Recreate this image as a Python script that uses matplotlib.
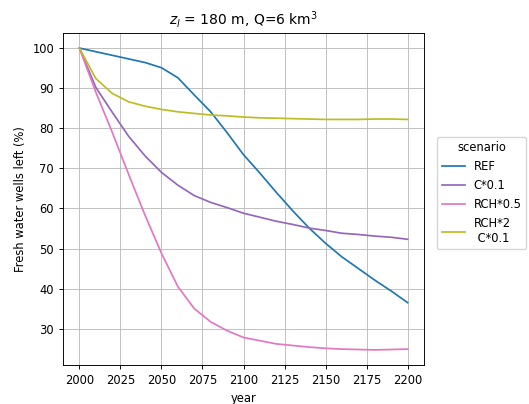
import matplotlib
matplotlib.use('Agg')
import matplotlib.pyplot as plt

years = list(range(2000, 2201, 10))

ref = [100, 99.1, 98.2, 97.3, 96.4, 95.1, 92.6, 88.3, 84.1, 78.9, 73.4,
       68.8, 64.0, 59.4, 55.1, 51.3, 47.9, 45.0, 42.1, 39.4, 36.5]
c01 = [100, 90.2, 84.0, 78.0, 73.1, 69.0, 65.8, 63.2, 61.5, 60.2, 58.8,
       57.8, 56.8, 56.0, 55.1, 54.5, 53.8, 53.5, 53.1, 52.8, 52.3]
rch05 = [100, 89.0, 79.0, 68.5, 58.3, 48.8, 40.5, 35.0, 31.7, 29.5, 27.8,
         27.0, 26.2, 25.8, 25.4, 25.1, 24.9, 24.8, 24.7, 24.8, 24.9]
rch2_c01 = [100, 92.4, 88.7, 86.6, 85.5, 84.7, 84.1, 83.7, 83.3, 83.1, 82.8,
            82.6, 82.5, 82.4, 82.3, 82.2, 82.2, 82.2, 82.3, 82.3, 82.2]

labels = ['REF', 'C*0.1', 'RCH*0.5', 'RCH*2\n C*0.1']
colors = ['#1f77b4', '#9467bd', '#e377c2', '#bcbd22']

# reference looks like a default figure saved at a lower dpi -> scale everything
s = 0.83
plt.rcParams['font.size'] = 10 * s
plt.rcParams['axes.linewidth'] = 0.8 * s
plt.rcParams['xtick.major.width'] = 0.8 * s
plt.rcParams['ytick.major.width'] = 0.8 * s
plt.rcParams['xtick.major.size'] = 3.5 * s
plt.rcParams['ytick.major.size'] = 3.5 * s

fig = plt.figure(figsize=(5.29, 4.04), dpi=100)
ax = fig.add_axes([63 / 529, 1 - 365 / 404, 361 / 529, 332 / 404])

for vals, lab, col in zip([ref, c01, rch05, rch2_c01], labels, colors):
    ax.plot(years, vals, color=col, label=lab, linewidth=1.5 * s)

ax.set_xticks(range(2000, 2201, 25))
ax.grid(True, color='#bdbdbd', linewidth=0.8 * s)
ax.set_axisbelow(True)
ax.set_xlabel('year')
ax.set_ylabel('Fresh water wells left (%)')
ax.set_title('$z_l$ = 180 m, Q=6 km$^3$', fontsize=12 * s)

ax.legend(title='scenario', loc='center left', bbox_to_anchor=(1.02, 0.518))

fig.savefig('out.png', dpi=100)
